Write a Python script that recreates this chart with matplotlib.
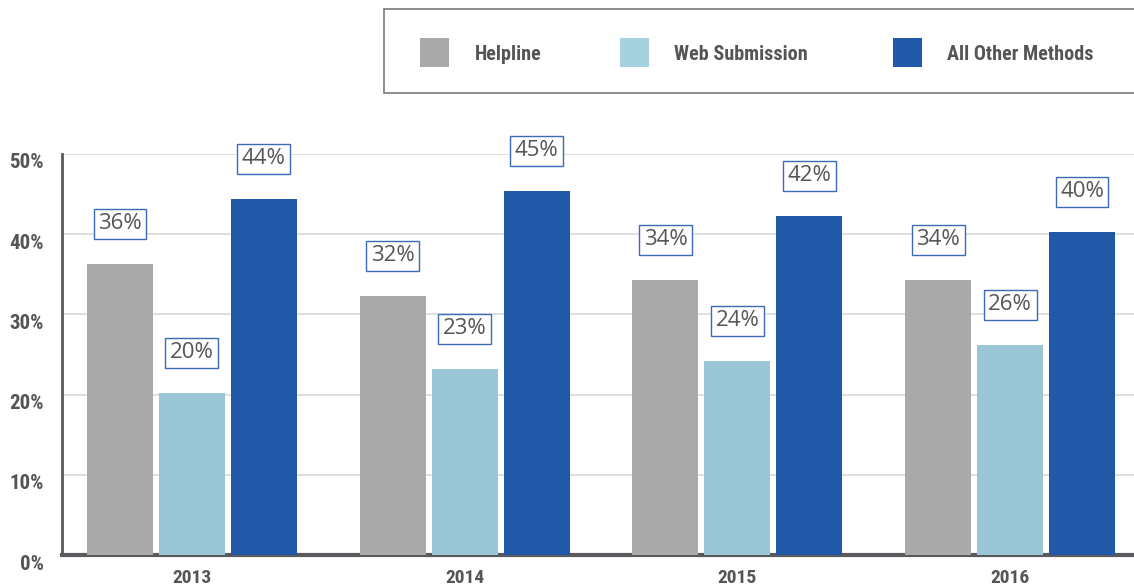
import matplotlib
matplotlib.use("Agg")
import matplotlib.pyplot as plt
import matplotlib.transforms as mtransforms
from matplotlib.patches import Rectangle
import numpy as np
import logging
logging.getLogger("matplotlib.font_manager").setLevel(logging.ERROR)

years = ["2013", "2014", "2015", "2016"]
series = ["Helpline", "Web Submission", "All Other Methods"]
helpline = [36.3, 32.3, 34.3, 34.3]
web = [20.2, 23.2, 24.2, 26.2]
other = [44.4, 45.4, 42.3, 40.3]
labels_helpline = ["36%", "32%", "34%", "34%"]
labels_web = ["20%", "23%", "24%", "26%"]
labels_other = ["44%", "45%", "42%", "40%"]
yticks = [0, 10, 20, 30, 40, 50]
ytick_labels = ["0%", "10%", "20%", "30%", "40%", "50%"]

colors = ["#a9a9a9", "#9ac6d8", "#2258a8"]
legend_colors = ["#a9a9a9", "#a5d2de", "#2258a8"]
txt_gray = "#555558"
cond = ["Roboto Condensed", "Archivo Narrow", "PT Sans Narrow", "Liberation Sans", "DejaVu Sans"]
reg = ["Open Sans", "DejaVu Sans"]

fig = plt.figure(figsize=(11.34, 5.88), dpi=100)
W, H = 1134, 588
ax = fig.add_axes([62 / W, 1 - 555 / H, 1 - 62 / W, (555 - 154) / H])

x = np.arange(len(years))
bw = 66 / 273
step = 72 / 273
all_vals = [helpline, web, other]
all_labels = [labels_helpline, labels_web, labels_other]
for i, (vals, labs) in enumerate(zip(all_vals, all_labels)):
    xs = x + (i - 1) * step
    ax.bar(xs, vals, width=bw, color=colors[i], zorder=3)
    for xi, v, lab in zip(xs, vals, labs):
        ax.annotate(lab, (xi, v), xytext=(0, 40), textcoords="offset pixels",
                    ha="center", va="center", fontsize=16, family=reg,
                    fontweight="normal", color=txt_gray, zorder=5,
                    bbox=dict(boxstyle="square,pad=0.2", fc="white",
                              ec="#3a6ab8", lw=1.0))

ax.set_xlim(-0.476, 3.454)
ax.set_ylim(0, 50)
ax.set_yticks(yticks)
ax.set_yticklabels(ytick_labels)
ax.set_xticks(x)
ax.set_xticklabels(years)
ax.grid(axis="y", color="#dcdcdc", lw=1.3, zorder=0)
ax.tick_params(axis="both", length=0)
ax.tick_params(axis="y", pad=13)
ax.tick_params(axis="x", pad=10)
for lab in ax.get_yticklabels():
    lab.set_family(cond)
    lab.set_fontweight("bold")
    lab.set_fontsize(15)
    lab.set_color(txt_gray)
    lab.set_transform(lab.get_transform() + mtransforms.ScaledTranslation(0, -7 / 100, fig.dpi_scale_trans))
for lab in ax.get_xticklabels():
    lab.set_family(cond)
    lab.set_fontweight("bold")
    lab.set_fontsize(14)
    lab.set_color(txt_gray)

for s in ["top", "right"]:
    ax.spines[s].set_visible(False)
ax.spines["left"].set_color("#5a5a5e")
ax.spines["left"].set_linewidth(2)
ax.spines["bottom"].set_color("#5a5a5e")
ax.spines["bottom"].set_linewidth(3)

# legend box
fig.add_artist(Rectangle((384 / W, 1 - 93 / H), (W + 10 - 384) / W, 84 / H,
                         transform=fig.transFigure, fc="white", ec="#7a7a7a",
                         lw=1.2, clip_on=False))
patch_x = [420, 620, 893]
text_x = [475, 674, 947]
for px, tx, c, name in zip(patch_x, text_x, legend_colors, series):
    fig.add_artist(Rectangle((px / W, 1 - 67 / H), 29 / W, 29 / H,
                             transform=fig.transFigure, fc=c, ec="none"))
    fig.text(tx / W, 1 - 54 / H, name, ha="left", va="center",
             family=cond, fontweight="bold", fontsize=14.5, color=txt_gray)

fig.savefig("out.png", dpi=100)
